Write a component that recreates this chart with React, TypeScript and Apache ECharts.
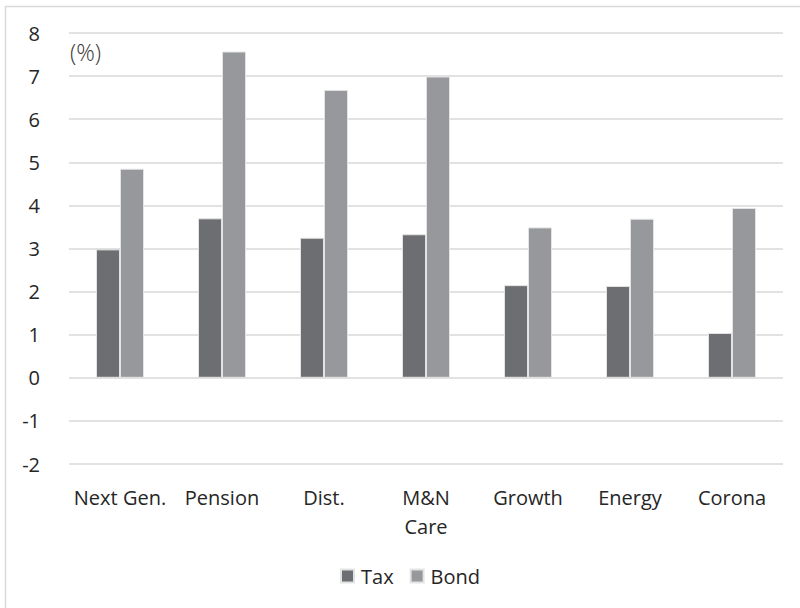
import React, { useEffect, useRef } from "react";
import * as echarts from "echarts";

const categories = ["Next Gen.", "Pension", "Dist.", "M&N\nCare", "Growth", "Energy", "Corona"];
const taxValues = [2.98, 3.7, 3.25, 3.33, 2.15, 2.13, 1.04];
const bondValues = [4.85, 7.57, 6.68, 6.99, 3.49, 3.69, 3.94];
const seriesNames = ["Tax", "Bond"];
const unitLabel = "(%)";

const FONT = "'Open Sans', 'Noto Sans', sans-serif";
const TEXT = "#262626";

export default function App() {
  const ref = useRef<HTMLDivElement>(null);
  useEffect(() => {
    document.body.style.margin = "0";
    const chart = echarts.init(ref.current!, null, { renderer: "svg" });
    chart.setOption({
      animation: false,
      backgroundColor: "#ffffff",
      textStyle: { fontFamily: FONT },
      title: {
        text: unitLabel,
        left: 65,
        top: 35,
        textStyle: { fontFamily: FONT, fontSize: 23, fontWeight: 300, color: "#3a3a3a" },
      },
      grid: { left: 69, right: 17, top: 33, bottom: 144, containLabel: false },
      legend: {
        data: seriesNames,
        left: 335,
        top: 561,
        itemWidth: 13,
        itemHeight: 13,
        itemGap: 16,
        icon: "rect",
        textStyle: { fontFamily: FONT, fontSize: 20, color: TEXT, padding: [0, 0, 0, 2] },
      },
      xAxis: {
        type: "category",
        data: categories,
        axisLine: { show: false },
        axisTick: { show: false },
        axisLabel: {
          interval: 0,
          margin: 19,
          fontFamily: FONT,
          fontSize: 20,
          lineHeight: 29,
          color: TEXT,
        },
      },
      yAxis: {
        type: "value",
        min: -2,
        max: 8,
        interval: 1,
        axisLine: { show: false },
        axisTick: { show: false },
        axisLabel: { margin: 29, fontFamily: FONT, fontSize: 20, color: TEXT },
        splitLine: { lineStyle: { color: "#d9d9d9", width: 1.5 } },
      },
      graphic: [
        {
          type: "rect",
          shape: { x: 5.5, y: 6.5, width: 1000, height: 1000 },
          style: { fill: "none", stroke: "#d9d9d9", lineWidth: 1.5 },
          silent: true,
          z: -1,
        },
      ],
      series: [
        {
          name: seriesNames[0],
          type: "bar",
          data: taxValues,
          barWidth: 24,
          barGap: "0%",
          itemStyle: { color: "#6d6e71", borderColor: "#e3e3e3", borderWidth: 1 },
        },
        {
          name: seriesNames[1],
          type: "bar",
          data: bondValues,
          barWidth: 24,
          barGap: "0%",
          itemStyle: { color: "#97989b", borderColor: "#e3e3e3", borderWidth: 1 },
        },
      ],
    });
    return () => chart.dispose();
  }, []);
  return <div ref={ref} style={{ width: 800, height: 608 }} />;
}
